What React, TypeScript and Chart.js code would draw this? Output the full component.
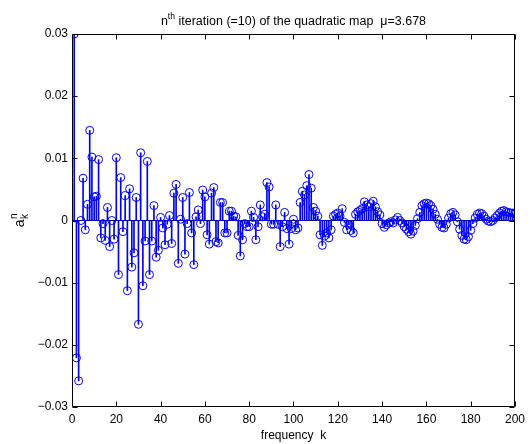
import React, { useEffect, useRef } from "react";
import { Chart, registerables } from "chart.js";
Chart.register(...registerables);

// frequency index k (1..200)
const K_FIRST = 1;
// a_k^n values, in chunks of k
const valuesK1to50 = [
  0.030, -0.0221, -0.0258, 0.0, 0.0068, -0.0015, 0.0026, 0.0145, 0.0102, 0.0038,
  0.0039, 0.0098, -0.0028, -0.0005, -0.0032, 0.0021, -0.0042, 0.0, -0.0030, 0.0101,
  -0.0087, 0.0069, -0.0018, 0.0040, -0.0113, 0.0051, -0.0075, -0.0052, 0.0037, -0.0167,
  0.0109, -0.0105, -0.0033, 0.0095, -0.0087, -0.0033, 0.0024, -0.0059, -0.0048, 0.0005,
  -0.0012, -0.0039, -0.0006, 0.0008, -0.0037, 0.0044, 0.0058, -0.0069, 0.0002, 0.0037,
];
const valuesK51to100 = [
  -0.0054, -0.0005, 0.0045, -0.0020, -0.0071, 0.0006, 0.0017, -0.0005, 0.0049, 0.0038,
  -0.0023, -0.0038, 0.0044, 0.0053, -0.0034, -0.0036, 0.0029, 0.0029, -0.0020, -0.0020,
  0.0015, 0.0015, 0.0007, 0.0006, -0.0024, -0.0057, -0.0031, -0.0005, -0.0010, -0.0010,
  0.0015, 0.0005, -0.0031, -0.0010, 0.0025, 0.0006, 0.0010, 0.0061, 0.0054, -0.0006,
  -0.0006, 0.0025, -0.0006, -0.0042, -0.0010, 0.0013, -0.0013, -0.0038, -0.0013, 0.0002,
];
const valuesK101to150 = [
  -0.0015, -0.0012, 0.0029, 0.0047, 0.0041, 0.0056, 0.0074, 0.0052, 0.0021, 0.0015,
  0.0007, -0.0023, -0.0040, -0.0025, -0.0020, -0.0028, -0.0015, 0.0007, 0.0010, 0.0012,
  0.0007, 0.0019, -0.0003, -0.0015, -0.0007, -0.0016, -0.0020, 0.0010, 0.0014, 0.0016,
  0.0019, 0.0030, 0.0025, 0.0022, 0.0027, 0.0031, 0.0022, 0.0014, 0.0009, -0.0005,
  -0.0011, -0.0007, -0.0004, -0.0002, -0.0004, 0.0001, 0.0005, 0.0000, -0.0004, -0.0010,
];
const valuesK151to200 = [
  -0.0014, -0.0018, -0.0022, -0.0017, -0.0008, 0.0003, 0.0013, 0.0024, 0.0027, 0.0028,
  0.0027, 0.0024, 0.0018, 0.0010, 0.0002, -0.0006, -0.0011, -0.0012, -0.0006, 0.0004,
  0.0011, 0.0013, 0.0009, -0.0002, -0.0014, -0.0024, -0.0030, -0.0031, -0.0026, -0.0016,
  -0.0005, 0.0004, 0.0010, 0.0012, 0.0011, 0.0007, 0.0002, -0.0001, -0.0002, 0.0000,
  0.0004, 0.0008, 0.0012, 0.0015, 0.0016, 0.0014, 0.0013, 0.0012, 0.0012, 0.0011,
];

const X_TICKS = [0, 20, 40, 60, 80, 100, 120, 140, 160, 180, 200];
const Y_TICKS = [-0.03, -0.02, -0.01, 0, 0.01, 0.02, 0.03];

const TITLE_MAIN = "n";
const TITLE_SUP = "th";
const TITLE_REST = " iteration (=10) of the quadratic map  \u03bc=3.678";
const X_LABEL = "frequency  k";

const FONT = "'Liberation Sans', Arial, Helvetica, sans-serif";
const BLUE = "#0000ff";

function formatY(v: number): string {
  const r = Math.round(v * 100) / 100;
  if (r === 0) return "0";
  const s = Math.abs(r).toFixed(2);
  return r < 0 ? "\u2212" + s : s;
}

const decor = {
  id: "decor",
  afterDraw(chart: any) {
    const { ctx, chartArea: a, scales } = chart;
    const xs = scales.x;
    const ys = scales.y;
    ctx.save();
    ctx.strokeStyle = "#000";
    ctx.lineWidth = 1;
    const L = Math.round(a.left) + 0.5;
    const R = Math.round(a.right) - 0.5;
    const T = Math.round(a.top) + 0.5;
    const B = Math.round(a.bottom) - 0.5;
    ctx.beginPath();
    ctx.rect(L, T, R - L, B - T);
    const tl = 5;
    X_TICKS.forEach((v) => {
      const px = Math.round(xs.getPixelForValue(v)) + 0.5;
      ctx.moveTo(px, B);
      ctx.lineTo(px, B - tl);
      ctx.moveTo(px, T);
      ctx.lineTo(px, T + tl);
    });
    Y_TICKS.forEach((v) => {
      const py = Math.round(ys.getPixelForValue(v)) + 0.5;
      ctx.moveTo(L, py);
      ctx.lineTo(L + tl, py);
      ctx.moveTo(R, py);
      ctx.lineTo(R - tl, py);
    });
    ctx.stroke();

    // title
    ctx.fillStyle = "#000";
    ctx.textBaseline = "alphabetic";
    ctx.textAlign = "left";
    const big = "12.5px " + FONT;
    const small = "8.5px " + FONT;
    ctx.font = big;
    const w1 = ctx.measureText(TITLE_MAIN).width;
    const w3 = ctx.measureText(TITLE_REST).width;
    ctx.font = small;
    const w2 = ctx.measureText(TITLE_SUP).width;
    const cx = (a.left + a.right) / 2;
    let tx = cx - (w1 + w2 + w3) / 2;
    const ty = 25;
    ctx.font = big;
    ctx.fillText(TITLE_MAIN, tx, ty);
    tx += w1;
    ctx.font = small;
    ctx.fillText(TITLE_SUP, tx, ty - 6);
    tx += w2;
    ctx.font = big;
    ctx.fillText(TITLE_REST, tx, ty);

    // x label
    ctx.textAlign = "center";
    ctx.font = "12px " + FONT;
    ctx.fillText(X_LABEL, cx, 439);

    // y label a^n_k rotated
    const cy = (a.top + a.bottom) / 2;
    ctx.translate(24, cy);
    ctx.rotate(-Math.PI / 2);
    ctx.textAlign = "left";
    const ybig = "14px " + FONT;
    const ysmall = "10px " + FONT;
    ctx.font = ybig;
    const wa = ctx.measureText("a").width;
    ctx.font = ysmall;
    const wn = ctx.measureText("n").width;
    const sx = -(wa + wn) / 2;
    ctx.font = ybig;
    ctx.fillText("a", sx, 0);
    ctx.font = ysmall;
    ctx.fillText("n", sx + wa + 0.5, -7);
    ctx.fillText("k", sx + wa + 0.5, 4);
    ctx.restore();
  },
};

export default function App() {
  const ref = useRef<HTMLCanvasElement | null>(null);
  useEffect(() => {
    if (!ref.current) return;
    const values = [...valuesK1to50, ...valuesK51to100, ...valuesK101to150, ...valuesK151to200];
    const pts = values.map((v, i) => ({ x: K_FIRST + i, y: v }));
    const chart = new Chart(ref.current, {
      type: "scatter",
      data: {
        datasets: [
          {
            type: "line",
            data: [
              { x: 0, y: 0 },
              { x: 200, y: 0 },
            ],
            borderColor: "#000",
            borderWidth: 1,
            pointRadius: 0,
            showLine: true,
            order: 3,
          } as any,
          {
            type: "bar",
            data: pts,
            backgroundColor: BLUE,
            borderWidth: 0,
            barThickness: 1,
            grouped: false,
            order: 2,
          } as any,
          {
            type: "scatter",
            data: pts,
            showLine: false,
            pointRadius: 4,
            pointBorderWidth: 1,
            pointBackgroundColor: "rgba(0,0,0,0)",
            pointBorderColor: BLUE,
            order: 1,
          } as any,
        ],
      },
      options: {
        responsive: false,
        animation: false,
        devicePixelRatio: 1,
        layout: { padding: { top: 34, right: 12, left: 0, bottom: 0 } },
        plugins: {
          legend: { display: false },
          title: { display: false },
          tooltip: { enabled: false },
        },
        scales: {
          x: {
            type: "linear",
            min: 0,
            max: 200,
            offset: false,
            grid: { display: false, drawTicks: false },
            border: { display: false },
            afterFit: (s: any) => {
              s.height = 37;
            },
            afterBuildTicks: (s: any) => {
              s.ticks = X_TICKS.map((v) => ({ value: v }));
            },
            ticks: {
              color: "#000",
              font: { family: FONT, size: 12 },
              padding: 5,
              maxRotation: 0,
              autoSkip: false,
              callback: (v: any) => String(v),
            },
          },
          y: {
            type: "linear",
            min: -0.03,
            max: 0.03,
            grid: { display: false, drawTicks: false },
            border: { display: false },
            afterFit: (s: any) => {
              s.width = 72;
            },
            afterBuildTicks: (s: any) => {
              s.ticks = Y_TICKS.map((v) => ({ value: v }));
            },
            ticks: {
              color: "#000",
              font: { family: FONT, size: 12 },
              padding: 4,
              autoSkip: false,
              callback: (v: any) => formatY(Number(v)),
            },
          },
        },
      },
      plugins: [decor],
    } as any);
    return () => chart.destroy();
  }, []);
  return (
    <div style={{ position: "absolute", left: 0, top: 0, width: 530, height: 444, background: "#fff" }}>
      <canvas ref={ref} width={530} height={444} style={{ display: "block" }} />
    </div>
  );
}
